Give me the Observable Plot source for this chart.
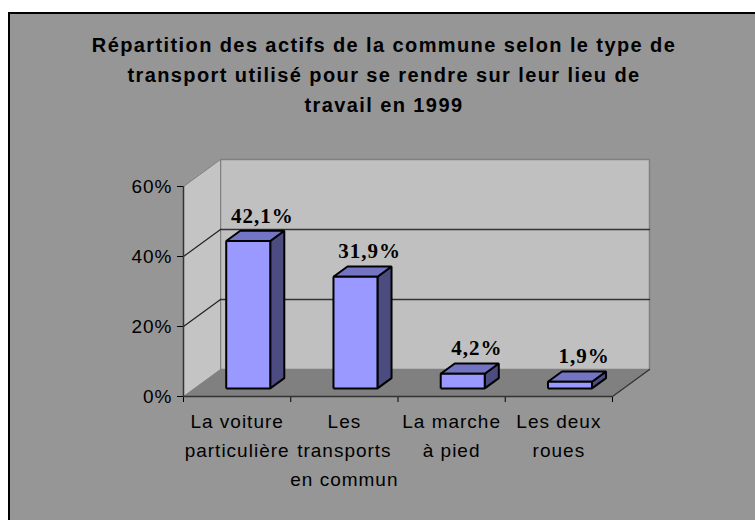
<!DOCTYPE html>
<html>
<head>
<meta charset="utf-8">
<script src="https://cdn.jsdelivr.net/npm/d3@7"></script>
<script src="https://cdn.jsdelivr.net/npm/@observablehq/plot@0.6"></script>
<style>
  html, body { margin: 0; padding: 0; background: #ffffff; width: 755px; height: 520px; overflow: hidden; }
  #frame { position: absolute; left: 8px; top: 12px; width: 800px; height: 560px; background: #969696; border: 2px solid #000; }
  #title { position: absolute; left: 0; top: 30px; width: 768px; text-align: center; font-family: "Liberation Sans", Arial, sans-serif; font-weight: bold; font-size: 20px; letter-spacing: 1.4px; line-height: 30px; color: #000; }
  #chart { position: absolute; left: 0; top: 0; }
</style>
</head>
<body>
<div id="frame"></div>
<div id="title"></div>
<div id="chart"></div>
<script>
// ---- data ----
const titleLines = [
  "Répartition des actifs de la commune selon le type de",
  "transport utilisé pour se rendre sur leur lieu de",
  "travail en 1999"
];
const categories = ["La voiture\nparticulière", "Les\ntransports\nen commun", "La marche\nà pied", "Les deux\nroues"];
const values = [42.1, 31.9, 4.2, 1.9];
const valueLabels = ["42,1%", "31,9%", "4,2%", "1,9%"];
const yTicks = [0, 20, 40, 60];

document.getElementById("title").innerHTML = titleLines.map(s => s.replace(/&/g, "&amp;")).join("<br>");

// ---- layout ----
const W = 755, H = 520, mL = 183, mR = 143, mT = 186, mB = 124;
const nCat = categories.length;
const yMax = yTicks[yTicks.length - 1];
const xPx = (W - mL - mR) / nCat;   // px per category unit
const yPx = (H - mT - mB) / yMax;   // px per percent
const DEPTH_X = 37, DEPTH_Y = 27;    // oblique depth in px
const zx = DEPTH_X / xPx, zy = DEPTH_Y / yPx;
const P = (x, y, z) => ({x: x + z * zx, y: y + z * zy});
const half = 22 / xPx, z0 = 0.3, z1 = 0.68;

function poly(id, pts) {
  const ps = pts.map(([x, y, z]) => ({id, ...P(x, y, z)}));
  ps.push({...ps[0]});
  return ps;
}

const backWall = poly("back", [[0, 0, 1], [nCat, 0, 1], [nCat, yMax, 1], [0, yMax, 1]]);
const leftWall = poly("left", [[0, 0, 0], [0, yMax, 0], [0, yMax, 1], [0, 0, 1]]);
const floor = poly("floor", [[0, 0, 0], [nCat, 0, 0], [nCat, 0, 1], [0, 0, 1]]);

const gridBack = yTicks.slice(1, -1).flatMap(v => [{id: "b" + v, ...P(0, v, 1)}, {id: "b" + v, ...P(nCat, v, 1)}]);
const gridLeft = yTicks.slice(1, -1).flatMap(v => [{id: "l" + v, ...P(0, v, 0)}, {id: "l" + v, ...P(0, v, 1)}]);
const floorEdge = [{id: "fe", ...P(nCat, 0, 0)}, {id: "fe", ...P(nCat, 0, 1)}];

const fronts = [], tops = [], sides = [];
values.forEach((v, i) => {
  const c = i + 0.5;
  fronts.push(...poly("f" + i, [[c - half, 0, z0], [c + half, 0, z0], [c + half, v, z0], [c - half, v, z0]]));
  tops.push(...poly("t" + i, [[c - half, v, z0], [c + half, v, z0], [c + half, v, z1], [c - half, v, z1]]));
  sides.push(...poly("s" + i, [[c + half, 0, z0], [c + half, 0, z1], [c + half, v, z1], [c + half, v, z0]]));
});

const labelData = values.map((v, i) => ({...P(i + 0.5, v, z1), text: valueLabels[i]}));
const catData = categories.map((c, i) => ({x: i + 0.5, text: c}));

const face = (data, fill, stroke, sw) => Plot.line(data, {x: "x", y: "y", z: "id", fill, stroke, strokeWidth: sw, strokeLinejoin: "miter", strokeLinecap: "butt"});

const chart = Plot.plot({
  width: W, height: H,
  marginLeft: mL, marginRight: mR, marginTop: mT, marginBottom: mB,
  style: {background: "transparent", fontFamily: "Liberation Sans, Arial, sans-serif", fontSize: "19px", letterSpacing: "1px", color: "#000", overflow: "visible"},
  x: {domain: [0, nCat], ticks: nCat, tickFormat: () => "", tickSize: 6, label: null},
  y: {domain: [0, yMax], ticks: yTicks.length - 1, tickFormat: d => d + "%", tickSize: 6, tickPadding: 5, label: null},
  marks: [
    face(backWall, "#c0c0c0", "#808080", 1.5),
    face(leftWall, "#c4c4c4", "#808080", 1),
    face(floor, "#808080", "none", 0),
    Plot.line(gridBack, {x: "x", y: "y", z: "id", stroke: "#333", strokeWidth: 1.3}),
    Plot.line(gridLeft, {x: "x", y: "y", z: "id", stroke: "#222", strokeWidth: 1.2}),
    Plot.line(floorEdge, {x: "x", y: "y", z: "id", stroke: "#333", strokeWidth: 1.3}),
    face(sides, "#4c4c80", "#000", 2),
    face(tops, "#7474c4", "#000", 2),
    face(fronts, "#9999ff", "#000", 2),
    Plot.ruleX([0], {y1: 0, y2: yMax, stroke: "#333", strokeWidth: 1.5}),
    Plot.ruleY([0], {x1: 0, x2: nCat, stroke: "#333", strokeWidth: 1.5}),
    Plot.text(catData, {x: "x", y: () => 0, text: "text", lineAnchor: "top", dy: 11, lineHeight: 1.53, fontSize: 19, fill: "#000"}),
    Plot.text(labelData, {x: "x", y: "y", text: "text", lineAnchor: "middle", dy: -15, fontSize: 21, fontWeight: "bold", fontFamily: "Liberation Serif, Times New Roman, serif", fill: "#000"})
  ]
});
document.getElementById("chart").appendChild(chart);
</script>
</body>
</html>
